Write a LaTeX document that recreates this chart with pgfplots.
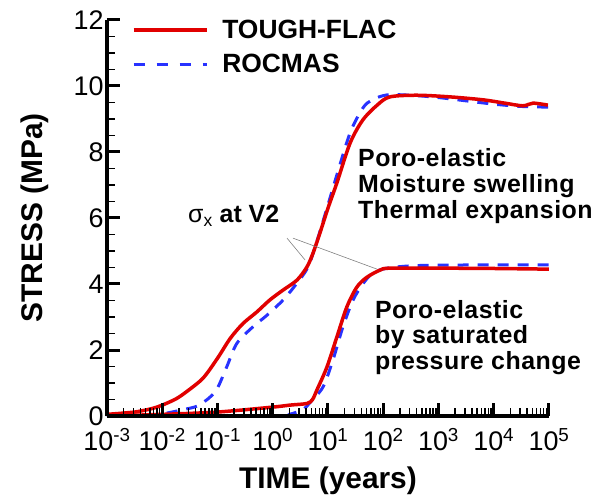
\documentclass[border=0pt]{standalone}
\usepackage{fontspec}
\setmainfont{Liberation Sans}
\usepackage{pgfplots}
\pgfplotsset{compat=1.18}
\definecolor{tfred}{RGB}{225,0,0}
\definecolor{rmblue}{RGB}{40,50,255}
\newcommand{\notefont}{\fontsize{25}{26}\selectfont\bfseries\addfontfeature{LetterSpace=2}}
\begin{document}
\begin{tikzpicture}
\begin{axis}[
    name=ax,
    scale only axis,
    width=442bp, height=396bp,
    xmode=log,
    xmin=1e-3, xmax=1e5,
    ymin=0, ymax=12,
    clip mode=individual,
    axis x line*=bottom,
    axis y line*=left,
    axis line style={line width=3.5bp},
    axis on top,
    tick align=inside,
    major tick length=13bp,
    minor tick length=8bp,
    every major tick/.append style={line width=3bp, black},
    every minor tick/.append style={line width=1.5bp, black},
    xtick={1e-3,1e-2,1e-1,1e0,1e1,1e2,1e3,1e4,1e5},
    xticklabels={10\textsuperscript{-3},10\textsuperscript{-2},10\textsuperscript{-1},10\textsuperscript{0},10\textsuperscript{1},10\textsuperscript{2},10\textsuperscript{3},10\textsuperscript{4},10\textsuperscript{5}},
    ytick={0,2,4,6,8,10,12},
    yticklabels={0,2,4,6,8,10,12},
    minor y tick num=3,
    ticklabel style={font=\fontsize{27}{27}\selectfont},
    xticklabel style={yshift=-9bp},
    xlabel={TIME (years)},
    ylabel={STRESS (MPa)},
    label style={font=\fontsize{30}{30}\selectfont\bfseries},
    xlabel style={at={(axis description cs:0.5,-0.164)}, anchor=center},
    ylabel style={at={(axis description cs:-0.163,0.5)}, anchor=center},
    legend style={draw=none, fill=none, font=\fontsize{26.5}{26.5}\selectfont\bfseries,
        at={(axis description cs:0.049,1.01)}, anchor=north west, row sep=10bp},
    legend cell align=left,
    legend image code/.code={\draw[#1] (0bp,0bp) -- (73bp,0bp); \path (85bp,0bp);},
]
\addlegendimage{tfred, line width=3.5bp}
\addlegendentry{TOUGH-FLAC}
\addlegendimage{rmblue, line width=3bp, dash pattern=on 11bp off 12bp}
\addlegendentry{ROCMAS}

% ROCMAS, upper curve
\addplot[rmblue, line width=3bp, dash pattern=on 11bp off 9bp, smooth, forget plot] coordinates {
(0.001,0) (0.00631,0) (0.0123,0.09) (0.02512,0.2) (0.04266,0.3) (0.07079,0.55)
(0.1,0.85) (0.1479,1.5) (0.2239,2.2) (0.4365,2.7) (0.7943,3.06) (1.549,3.52)
(2.754,4.03) (4.365,4.52) (6.310,5.3) (10,6.4) (14.45,7.3) (25.12,8.58)
(42.66,9.33) (63.10,9.58) (117.5,9.73) (316.2,9.72) (1000,9.65) (3162,9.55)
(10000,9.45) (31623,9.38) (100000,9.36)
};
% ROCMAS, lower curve
\addplot[rmblue, line width=3bp, dash pattern=on 11bp off 9bp, smooth, forget plot] coordinates {
(0.001,0) (1,0) (1.995,0.05) (3.548,0.2) (4.677,0.4) (8.128,0.88) (12.30,1.7)
(18.62,2.7) (28.18,3.5) (42.66,4.0) (64.57,4.33) (117.5,4.48) (316.2,4.55)
(1000,4.57) (10000,4.58) (100000,4.58)
};
% TOUGH-FLAC, upper curve
\addplot[tfred, line width=3.5bp, smooth, forget plot] coordinates {
(0.001,0.05) (0.003162,0.12) (0.00631,0.22) (0.01,0.33) (0.01778,0.52)
(0.02818,0.75) (0.05495,1.15) (0.1,1.75) (0.1698,2.35) (0.2884,2.8) (0.5129,3.15)
(0.8913,3.52) (1.549,3.82) (2.754,4.12) (4.169,4.52) (5.370,4.94) (7.161,5.55)
(10,6.3) (14.45,7.06) (25.12,8.27) (42.66,8.97) (77.62,9.42) (131.8,9.67)
(407.4,9.72) (1622,9.67) (6457,9.58) (15849,9.48) (33884,9.40) (51286,9.48)
(95499,9.42)
};
% TOUGH-FLAC, lower curve
\addplot[tfred, line width=3.5bp, smooth, forget plot] coordinates {
(0.001,0) (0.01,0.05) (0.1,0.12) (1,0.27) (2.042,0.33) (4.169,0.38) (5.248,0.5)
(6.310,0.79) (9.550,1.48) (14.45,2.39) (21.88,3.3) (33.11,3.9) (50.12,4.2)
(87.10,4.42) (131.8,4.48) (1000,4.48) (10000,4.47) (100000,4.45)
};
% leader lines of the sigma_x label
\addplot[gray, line width=0.6bp, forget plot] coordinates {(1.81,5.39) (3.84,4.73)};
\addplot[gray, line width=0.6bp, forget plot] coordinates {(2.32,5.39) (77.1,4.45)};

\node[anchor=base west, inner sep=0pt, font=\fontsize{25}{26}\selectfont]
    at (axis cs:0.0292,5.85) {σ\textsubscript{x} \bfseries at V2};
\node[anchor=north west, inner sep=0pt, align=left, font=\notefont]
    at (axis cs:34.9,8.12) {Poro-elastic\\Moisture swelling\\Thermal expansion};
\node[anchor=north west, inner sep=0pt, align=left, font=\notefont]
    at (axis cs:70.8,3.52) {Poro-elastic\\by saturated\\pressure change};
\end{axis}
\pgfresetboundingbox
\path[use as bounding box] ([xshift=-107bp,yshift=-85bp]ax.south west) rectangle ([xshift=52bp,yshift=20bp]ax.north east);
\end{tikzpicture}
\end{document}
